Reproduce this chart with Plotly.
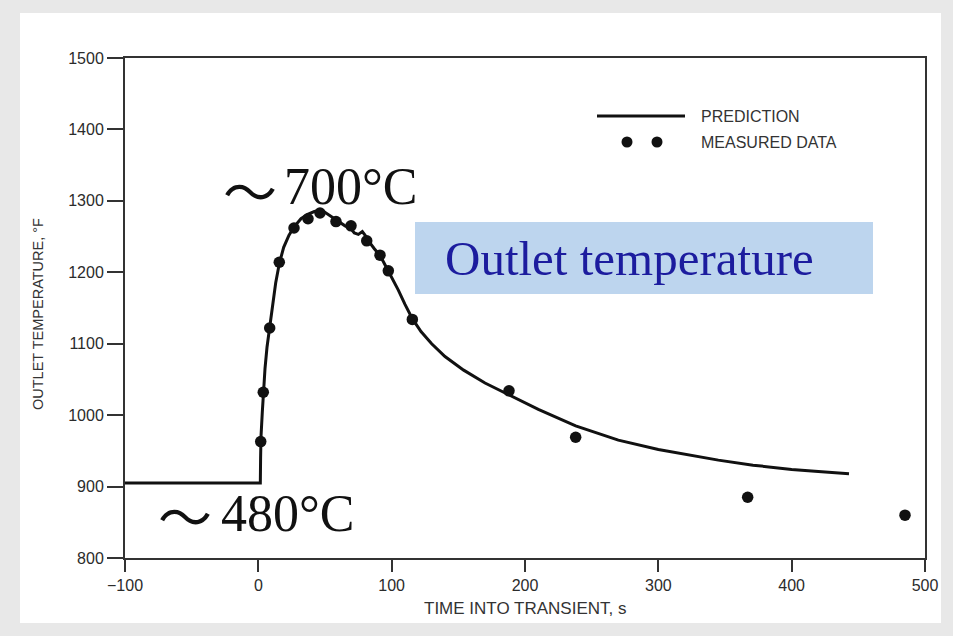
import plotly.graph_objects as go

# Prediction curve (time s, outlet temperature °F)
pred_t = [-100, 1.5, 1.7, 2, 3, 3.7, 5, 6.5, 8.5, 10.5, 13, 15.7, 19, 23, 27, 32, 37, 42, 46, 50,
          55, 60, 65, 69, 72, 75, 78, 80, 83, 87, 91, 94, 97.5, 101, 105, 110, 115.5, 122, 130,
          140, 154, 170, 188, 210, 238, 270, 300, 318, 345, 371, 400, 420, 443]
pred_T = [905, 905, 940, 970, 1005, 1032, 1065, 1095, 1122, 1150, 1185, 1212, 1235, 1252, 1264,
          1275, 1281, 1285, 1286, 1284, 1278, 1271, 1265, 1262, 1255, 1253, 1257, 1252, 1243,
          1233, 1224, 1214, 1202, 1190, 1175, 1155, 1135, 1117, 1100, 1082, 1063, 1045, 1028,
          1008, 985, 965, 952, 946, 937, 930, 924, 921, 918]

# Measured data
meas_t = [1.8, 3.7, 8.5, 15.7, 26.75, 37.25, 46.25, 58.25, 69.5, 81.3, 91.25, 97.5, 115.5,
          188, 238, 367, 485]
meas_T = [963, 1032, 1122, 1214, 1262, 1275, 1283, 1271, 1265, 1244, 1224, 1202, 1134,
          1034, 969, 885, 860]

x_ticks = [-100, 0, 100, 200, 300, 400, 500]
y_ticks = [800, 900, 1000, 1100, 1200, 1300, 1400, 1500]

W, H = 953, 636
L, R, T, B = 125, 28, 58, 78
pw, ph = W - L - R, H - T - B


def px(x):
    return (x - L) / pw


def py(y):
    return (H - B - y) / ph


fig = go.Figure()
fig.add_trace(go.Scatter(x=pred_t, y=pred_T, mode="lines",
                         line=dict(color="#111111", width=3), showlegend=False))
fig.add_trace(go.Scatter(x=meas_t, y=meas_T, mode="markers",
                         marker=dict(color="#111111", size=11.5), showlegend=False))

axis_common = dict(showline=True, linecolor="#333333", linewidth=2, mirror=True,
                   ticks="outside", tickcolor="#333333", tickwidth=2, showgrid=False,
                   zeroline=False,
                   tickfont=dict(family="Arial, Liberation Sans", size=16, color="#2b2b2b"))

fig.update_xaxes(range=[-100, 500], tickvals=x_ticks, ticklen=12, **axis_common)
fig.update_yaxes(range=[800, 1500], tickvals=y_ticks, ticklen=16, **axis_common)

shapes = [
    dict(type="rect", xref="paper", yref="paper", x0=px(20), x1=px(941), y0=py(623), y1=py(13),
         fillcolor="white", line=dict(width=0), layer="below"),
    dict(type="rect", xref="paper", yref="paper", x0=px(415), x1=px(873), y0=py(294), y1=py(222),
         fillcolor="#bdd5ee", line=dict(width=0), layer="above"),
    dict(type="line", xref="paper", yref="paper", x0=px(597), x1=px(685), y0=py(116), y1=py(116),
         line=dict(color="#111111", width=3)),
]
for cx in (627, 657):
    shapes.append(dict(type="circle", xref="paper", yref="paper",
                       x0=px(cx - 5.5), x1=px(cx + 5.5), y0=py(142 + 5.5), y1=py(142 - 5.5),
                       fillcolor="#111111", line=dict(width=0)))

sans = "Arial, Liberation Sans"
serif = "Liberation Serif, Times New Roman, DejaVu Serif"
tilde_font = dict(family="Noto Sans CJK SC, DejaVu Sans", size=54, color="#111111")
annotations = [
    dict(text="PREDICTION", x=px(699), y=py(116), xanchor="left", yanchor="middle",
         font=dict(family=sans, size=16, color="#333333")),
    dict(text="MEASURED DATA", x=px(699), y=py(142), xanchor="left", yanchor="middle",
         font=dict(family=sans, size=16, color="#333333")),
    dict(text="TIME INTO TRANSIENT, s", x=px(525), y=py(608), xanchor="center", yanchor="middle",
         font=dict(family=sans, size=17, color="#333333")),
    dict(text="OUTLET TEMPERATURE, °F", x=px(38), y=py(314), xanchor="center", yanchor="middle",
         textangle=-90, font=dict(family=sans, size=14.5, color="#333333")),
    dict(text="～", x=px(250), y=py(189), xanchor="center", yanchor="middle", font=tilde_font),
    dict(text="700°C", x=px(350), y=py(186), xanchor="center", yanchor="middle",
         font=dict(family=serif, size=52, color="#111111")),
    dict(text="～", x=px(185), y=py(514), xanchor="center", yanchor="middle", font=tilde_font),
    dict(text="480°C", x=px(287), y=py(513), xanchor="center", yanchor="middle",
         font=dict(family=serif, size=52, color="#111111")),
    dict(text="Outlet temperature", x=px(443), y=py(258), xanchor="left", yanchor="middle",
         font=dict(family=serif, size=49, color="#1c1c9e")),
]
for a in annotations:
    a.update(xref="paper", yref="paper", showarrow=False)

fig.update_layout(width=W, height=H, margin=dict(l=L, r=R, t=T, b=B),
                  paper_bgcolor="#e8e8e8", plot_bgcolor="white",
                  shapes=shapes, annotations=annotations, showlegend=False)

fig.write_html("out.html", config={"displayModeBar": False},
               post_script="document.body.style.margin='0';"
                           "document.documentElement.style.overflow='hidden';")
